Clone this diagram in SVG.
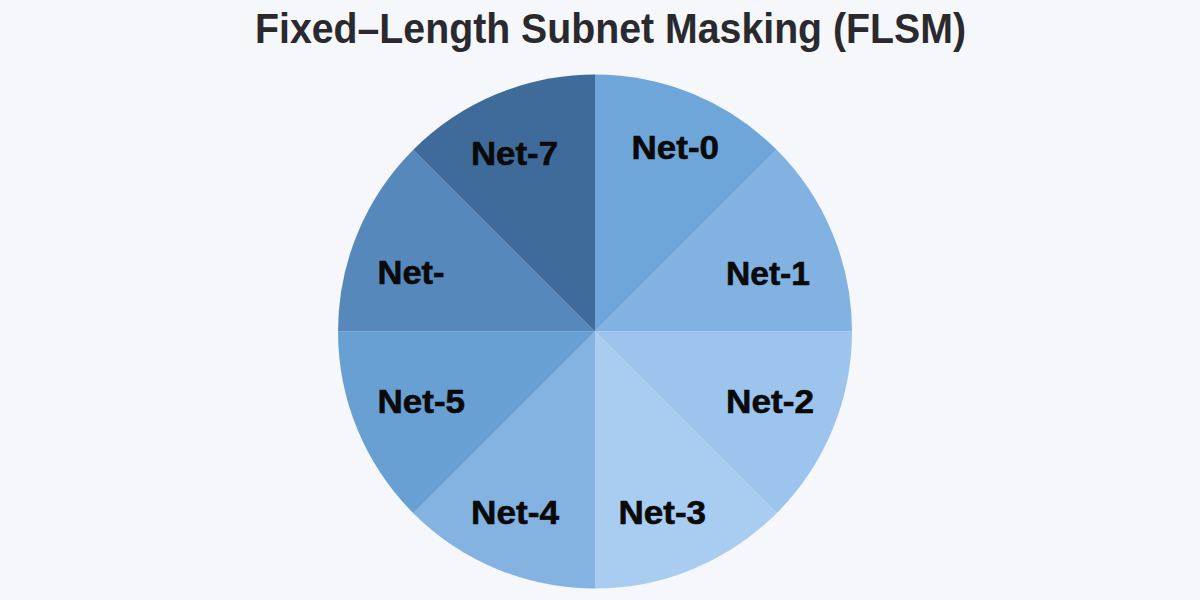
<svg xmlns="http://www.w3.org/2000/svg" width="1200" height="600" viewBox="0 0 1200 600">
  <style>
    .title { font-family: "Liberation Sans", Arial, sans-serif; font-weight: bold; font-size: 42px; fill: #2a2a2e; }
    .lbl { font-family: "Liberation Sans", Arial, sans-serif; font-weight: bold; font-size: 33px; fill: #0a0a0a; stroke: #0a0a0a; stroke-width: 0.6px; }
  </style>
  <rect x="0" y="0" width="1200" height="600" fill="#f5f7fa"/>
  <text class="title" x="255" y="43" textLength="711" lengthAdjust="spacingAndGlyphs">Fixed–Length Subnet Masking (FLSM)</text>
  <g id="slices">
    <g id="net0"><path d="M595 331.5 L595 74.5 A257 257 0 0 1 776.7 149.8 Z" fill="#6ea6d9"/><text class="lbl" x="631.5" y="158.5" textLength="87.5" lengthAdjust="spacingAndGlyphs">Net-0</text></g>
    <g id="net1"><path d="M595 331.5 L776.7 149.8 A257 257 0 0 1 852 331.5 Z" fill="#82b2e2"/><text class="lbl" x="726" y="284.5" textLength="84" lengthAdjust="spacingAndGlyphs">Net-1</text></g>
    <g id="net2"><path d="M595 331.5 L852 331.5 A257 257 0 0 1 776.7 513.2 Z" fill="#9cc4ed"/><text class="lbl" x="726" y="413" textLength="88" lengthAdjust="spacingAndGlyphs">Net-2</text></g>
    <g id="net3"><path d="M595 331.5 L776.7 513.2 A257 257 0 0 1 595 588.5 Z" fill="#a9ccf1"/><text class="lbl" x="618.5" y="524" textLength="87.5" lengthAdjust="spacingAndGlyphs">Net-3</text></g>
    <g id="net4"><path d="M595 331.5 L595 588.5 A257 257 0 0 1 413.3 513.2 Z" fill="#84b3e2"/><text class="lbl" x="471" y="524" textLength="88" lengthAdjust="spacingAndGlyphs">Net-4</text></g>
    <g id="net5"><path d="M595 331.5 L413.3 513.2 A257 257 0 0 1 338 331.5 Z" fill="#69a0d3"/><text class="lbl" x="377.5" y="413" textLength="87.5" lengthAdjust="spacingAndGlyphs">Net-5</text></g>
    <g id="net6"><path d="M595 331.5 L338 331.5 A257 257 0 0 1 413.3 149.8 Z" fill="#5688bc"/><text class="lbl" x="377.5" y="284" textLength="67" lengthAdjust="spacingAndGlyphs">Net-</text></g>
    <g id="net7"><path d="M595 331.5 L413.3 149.8 A257 257 0 0 1 595 74.5 Z" fill="#3f6b9b"/><text class="lbl" x="471" y="165" textLength="87" lengthAdjust="spacingAndGlyphs">Net-7</text></g>
  </g>
</svg>
